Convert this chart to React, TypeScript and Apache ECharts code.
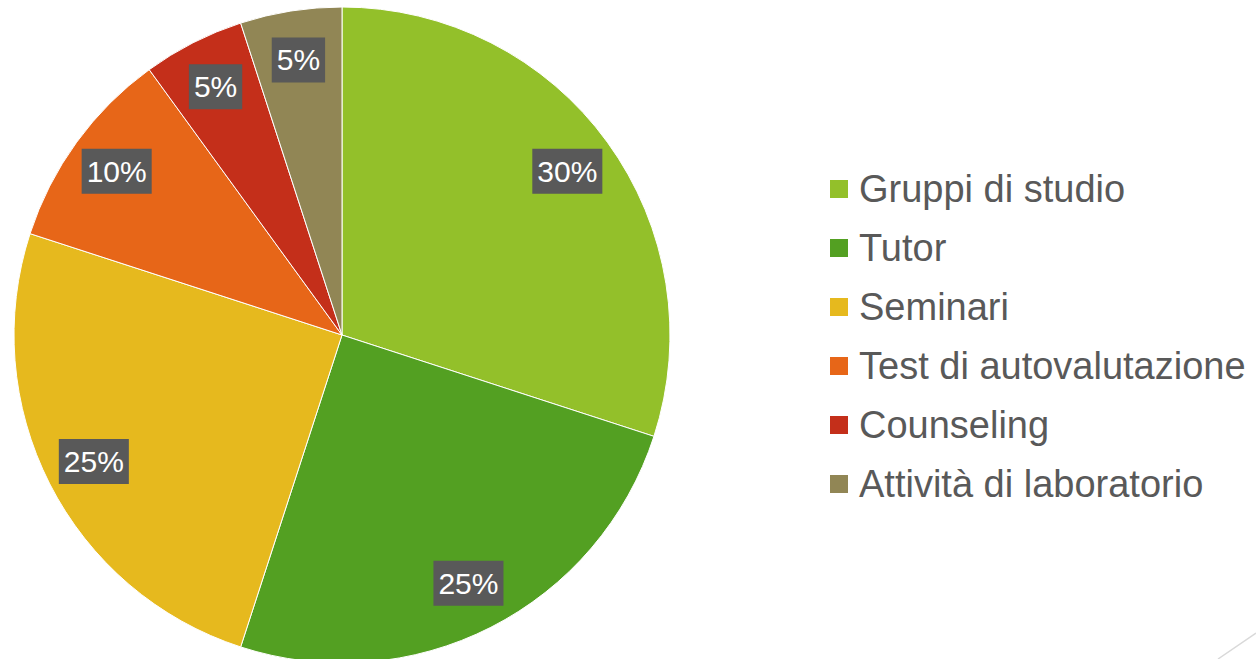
import React, { useEffect, useRef } from "react";
import * as echarts from "echarts";

const categories = [
  "Gruppi di studio",
  "Tutor",
  "Seminari",
  "Test di autovalutazione",
  "Counseling",
  "Attività di laboratorio",
];
const values = [30, 25, 25, 10, 5, 5];
const colors = ["#93C02A", "#53A022", "#E6B91E", "#E76618", "#C42F1A", "#918655"];

export default function App() {
  const ref = useRef<HTMLDivElement>(null);
  useEffect(() => {
    document.body.style.margin = "0";
    const chart = echarts.init(ref.current!, undefined, { renderer: "svg" });
    const data = categories.map((name, i) => ({ name, value: values[i] }));
    const center = [342, 335];
    const R = 328;
    chart.setOption({
      animation: false,
      color: colors,
      legend: {
        orient: "vertical",
        left: 823,
        top: 164,
        padding: [5, 5, 5, 5],
        icon: "rect",
        itemWidth: 20,
        itemHeight: 20,
        itemGap: 19,
        data: categories,
        textStyle: {
          fontFamily: "Liberation Sans",
          fontSize: 38,
          lineHeight: 40,
          color: "#595959",
          padding: [0, 0, 0, 5],
        },
      },
      series: [
        {
          type: "pie",
          center,
          radius: [0, R],
          startAngle: 90,
          clockwise: true,
          data,
          label: { show: false },
          labelLine: { show: false },
          itemStyle: { borderColor: "#ffffff", borderWidth: 1 },
          silent: true,
        },
        {
          type: "pie",
          center,
          radius: [R * 0.68, R],
          startAngle: 90,
          clockwise: true,
          data,
          itemStyle: { color: "rgba(0,0,0,0)", borderWidth: 0 },
          label: {
            show: true,
            position: "inside",
            formatter: "{c}%",
            color: "#ffffff",
            fontFamily: "Liberation Sans",
            fontSize: 30,
            lineHeight: 32,
            backgroundColor: "#595959",
            padding: [7, 5, 6, 5],
          },
          labelLine: { show: false },
          silent: true,
        },
      ],
      graphic: [
        {
          type: "line",
          shape: { x1: 1218, y1: 659, x2: 1256, y2: 633 },
          style: { stroke: "#D9D9D9", lineWidth: 1.5 },
        },
      ],
    });
    return () => chart.dispose();
  }, []);
  return <div ref={ref} style={{ width: 1256, height: 659 }} />;
}
